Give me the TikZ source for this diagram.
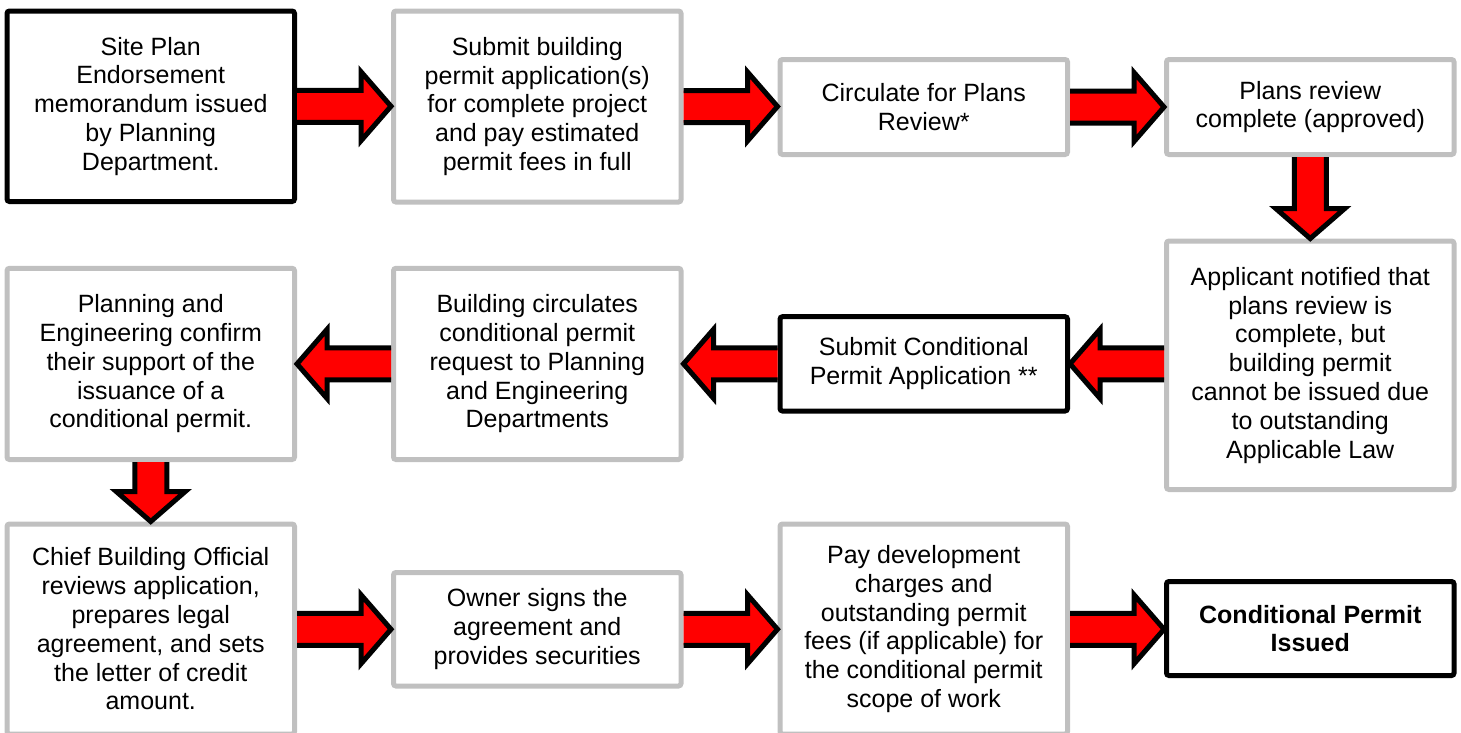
\documentclass[tikz,border=0pt]{standalone}
\usepackage{fontspec}
\setmainfont{Liberation Sans}
\usetikzlibrary{calc}
\definecolor{boxgray}{HTML}{C0C0C0}
\definecolor{arrred}{HTML}{FF0000}
\tikzset{
  stepbox/.style={rectangle, draw=boxgray, fill=white, line width=5pt, rounded corners=2.5pt,
    align=center, inner sep=4pt, font=\fontsize{25}{28.8}\selectfont, minimum width=287.5pt},
  keybox/.style={stepbox, draw=black},
  fatarrow/.style={fill=arrred, draw=black, line width=5pt, line join=miter, miter limit=10}
}
\newcommand\arrR[3]{%
  \filldraw[fatarrow] let \p1=(#1.east), \p2=(#2.west), \p3=(#3.center) in
  (\x1,\y3+16pt) -- (\x2-30pt,\y3+16pt) -- (\x2-30pt,\y3+34.5pt) -- (\x2,\y3)
  -- (\x2-30pt,\y3-34.5pt) -- (\x2-30pt,\y3-16pt) -- (\x1,\y3-16pt);}
\newcommand\arrL[3]{%
  \filldraw[fatarrow] let \p1=(#1.west), \p2=(#2.east), \p3=(#3.center) in
  (\x1,\y3+16pt) -- (\x2+30pt,\y3+16pt) -- (\x2+30pt,\y3+34.5pt) -- (\x2,\y3)
  -- (\x2+30pt,\y3-34.5pt) -- (\x2+30pt,\y3-16pt) -- (\x1,\y3-16pt);}
\newcommand\arrD[2]{%
  \filldraw[fatarrow] let \p1=(#1.south), \p2=(#2.north), \p3=(#1.center) in
  (\x3-16pt,\y1) -- (\x3-16pt,\y2+30pt) -- (\x3-34.5pt,\y2+30pt) -- (\x3,\y2)
  -- (\x3+34.5pt,\y2+30pt) -- (\x3+16pt,\y2+30pt) -- (\x3+16pt,\y1);}
\begin{document}
\begin{tikzpicture}[x=1pt,y=-1pt]
\useasboundingbox (0,0) rectangle (1461,732);
\clip (0,0) rectangle (1461,732);
% row 1
\node[keybox, minimum height=190.5pt] (A) at (150.75,106.25)
  {Site Plan\\Endorsement\\memorandum issued\\by Planning\\Department.};
\node[stepbox, minimum height=191pt] (B) at (537.25,106.5)
  {Submit building\\permit application(s)\\for complete project\\and pay estimated\\permit fees in full};
\node[stepbox, minimum height=95pt] (C) at (923.75,107)
  {Circulate for Plans\\Review*};
\node[stepbox, minimum height=95pt] (D) at (1310.25,107)
  {Plans review\\complete (approved)};
% row 2
\node[stepbox, minimum height=248.5pt] (E) at (1310.25,365.25)
  {Applicant notified that\\plans review is\\complete, but\\building permit\\cannot be issued due\\to outstanding\\Applicable Law};
\node[keybox, minimum height=94.3pt] (F) at (923.75,363.85)
  {Submit Conditional\\Permit Application **};
\node[stepbox, minimum height=191.2pt] (G) at (537.25,363.9)
  {Building circulates\\conditional permit\\request to Planning\\and Engineering\\Departments};
\node[stepbox, minimum height=191.2pt] (H) at (150.75,363.9)
  {Planning and\\Engineering confirm\\their support of the\\issuance of a\\conditional permit.};
% row 3
\node[stepbox, minimum height=210pt] (I) at (150.75,629)
  {Chief Building Official\\reviews application,\\prepares legal\\agreement, and sets\\the letter of credit\\amount.};
\node[stepbox, minimum height=113.5pt] (J) at (537.25,629.25)
  {Owner signs the\\agreement and\\provides securities};
\node[stepbox, minimum height=210pt] (K) at (923.75,629)
  {Pay development\\charges and\\outstanding permit\\fees (if applicable) for\\the conditional permit\\scope of work};
\node[keybox, minimum height=94pt, font=\fontsize{25}{28.8}\selectfont\bfseries] (L) at (1310.25,628.5)
  {Conditional Permit\\Issued};
% arrows
\arrR{A}{B}{A}
\arrR{B}{C}{B}
\arrR{C}{D}{C}
\arrD{D}{E}
\arrL{E}{F}{F}
\arrL{F}{G}{F}
\arrL{G}{H}{G}
\arrD{H}{I}
\arrR{I}{J}{J}
\arrR{J}{K}{J}
\arrR{K}{L}{J}
\end{tikzpicture}
\end{document}
